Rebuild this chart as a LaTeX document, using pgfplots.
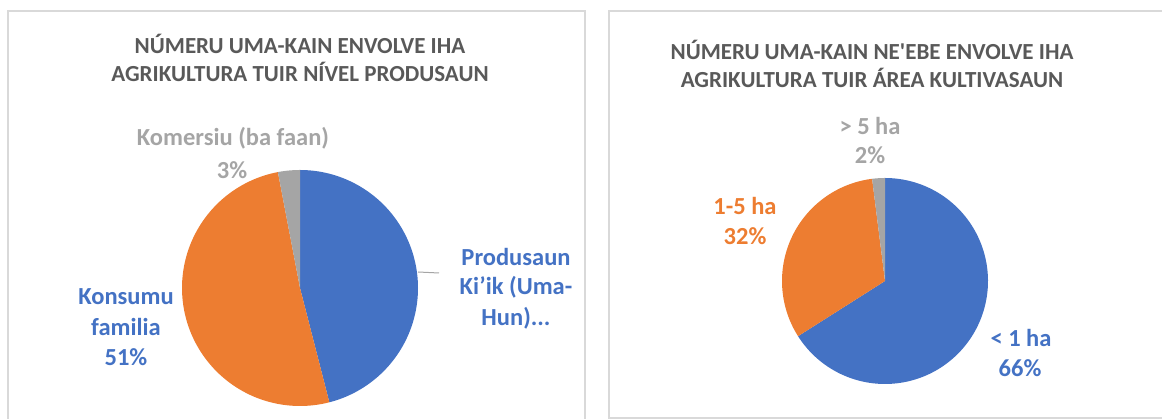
\documentclass[border=0pt]{standalone}
\usepackage{pgfplots}
\pgfplotsset{compat=1.18}
\usepackage{fontspec}
\setmainfont{Carlito}[Ligatures=TeXOff]
\definecolor{cblue}{HTML}{4472C4}
\definecolor{corange}{HTML}{ED7D31}
\definecolor{cgray}{HTML}{A5A5A5}
\definecolor{ctitle}{HTML}{595959}
\definecolor{cframe}{HTML}{D9D9D9}
\newcommand{\lab}{\fontsize{24.5}{28}\selectfont\bfseries}
\newcommand{\ttl}{\fontsize{23}{26}\selectfont\bfseries}

% shares in percent
\def\Aprod{46}\def\Akons{51}\def\Akom{3}
\def\Bsmall{66}\def\Bmid{32}\def\Bbig{2}

\pgfplotsset{pie/.style={anchor=south west, hide axis, clip=false,
  xmin=-1, xmax=1, ymin=-1, ymax=1, enlargelimits=false}}

\begin{document}
\begin{tikzpicture}[x=1pt,y=1pt]
\useasboundingbox (0,0) rectangle (1162,419);
\draw[cframe, line width=1.5pt] (8,-10) rectangle (585,408);
\draw[cframe, line width=1.5pt] (609,1) rectangle (1175,408);

% left pie, centre (300,131), radius 118
\begin{axis}[pie, at={(182pt,13pt)}, x=118pt, y=118pt]
  \addplot[fill=cblue, draw=none, domain={90-\Aprod*3.6}:90, samples=150]
    ({cos(x)},{sin(x)}) -- (axis cs:0,0) -- cycle;
  \addplot[fill=corange, draw=none, domain={90+\Akom*3.6}:{90+(\Akom+\Akons)*3.6}, samples=150]
    ({cos(x)},{sin(x)}) -- (axis cs:0,0) -- cycle;
  \addplot[fill=cgray, draw=none, domain=90:{90+\Akom*3.6}, samples=20]
    ({cos(x)},{sin(x)}) -- (axis cs:0,0) -- cycle;
\end{axis}

% right pie, centre (885,138), radius 103
\begin{axis}[pie, at={(782pt,35pt)}, x=103pt, y=103pt]
  \addplot[fill=cblue, draw=none, domain={90-\Bsmall*3.6}:90, samples=150]
    ({cos(x)},{sin(x)}) -- (axis cs:0,0) -- cycle;
  \addplot[fill=corange, draw=none, domain={90+\Bbig*3.6}:{90+(\Bbig+\Bmid)*3.6}, samples=120]
    ({cos(x)},{sin(x)}) -- (axis cs:0,0) -- cycle;
  \addplot[fill=cgray, draw=none, domain=90:{90+\Bbig*3.6}, samples=20]
    ({cos(x)},{sin(x)}) -- (axis cs:0,0) -- cycle;
\end{axis}

% titles
\node[ctitle, font=\ttl] at (300,375) {NÚMERU UMA-KAIN ENVOLVE IHA};
\node[ctitle, font=\ttl] at (300,347) {AGRIKULTURA TUIR NÍVEL PRODUSAUN};
\node[ctitle, font=\ttl] at (872,369) {NÚMERU UMA-KAIN NE'EBE ENVOLVE IHA};
\node[ctitle, font=\ttl] at (872,341) {AGRIKULTURA TUIR ÁREA KULTIVASAUN};

% left labels
\node[cgray, font=\lab] at (233,281) {Komersiu (ba faan)};
\node[cgray, font=\lab] at (232,249) {3\%};
\draw[cgray, line width=1pt] (418,147) -- (439,146);
\node[cblue, font=\lab] at (516,162) {Produsaun};
\node[cblue, font=\lab] at (516,132) {Ki’ik (Uma-};
\node[cblue, font=\lab] at (516,101) {Hun)...};
\node[cblue, font=\lab] at (126,122) {Konsumu};
\node[cblue, font=\lab] at (126,92) {familia};
\node[cblue, font=\lab] at (126,62) {51\%};

% right labels
\node[cgray, font=\lab] at (870,293) {> 5 ha};
\node[cgray, font=\lab] at (870,264) {2\%};
\node[corange, font=\lab] at (745,213) {1-5 ha};
\node[corange, font=\lab] at (745,183) {32\%};
\node[cblue, font=\lab] at (1021,81) {< 1 ha};
\node[cblue, font=\lab] at (1020,51) {66\%};
\end{tikzpicture}
\end{document}
